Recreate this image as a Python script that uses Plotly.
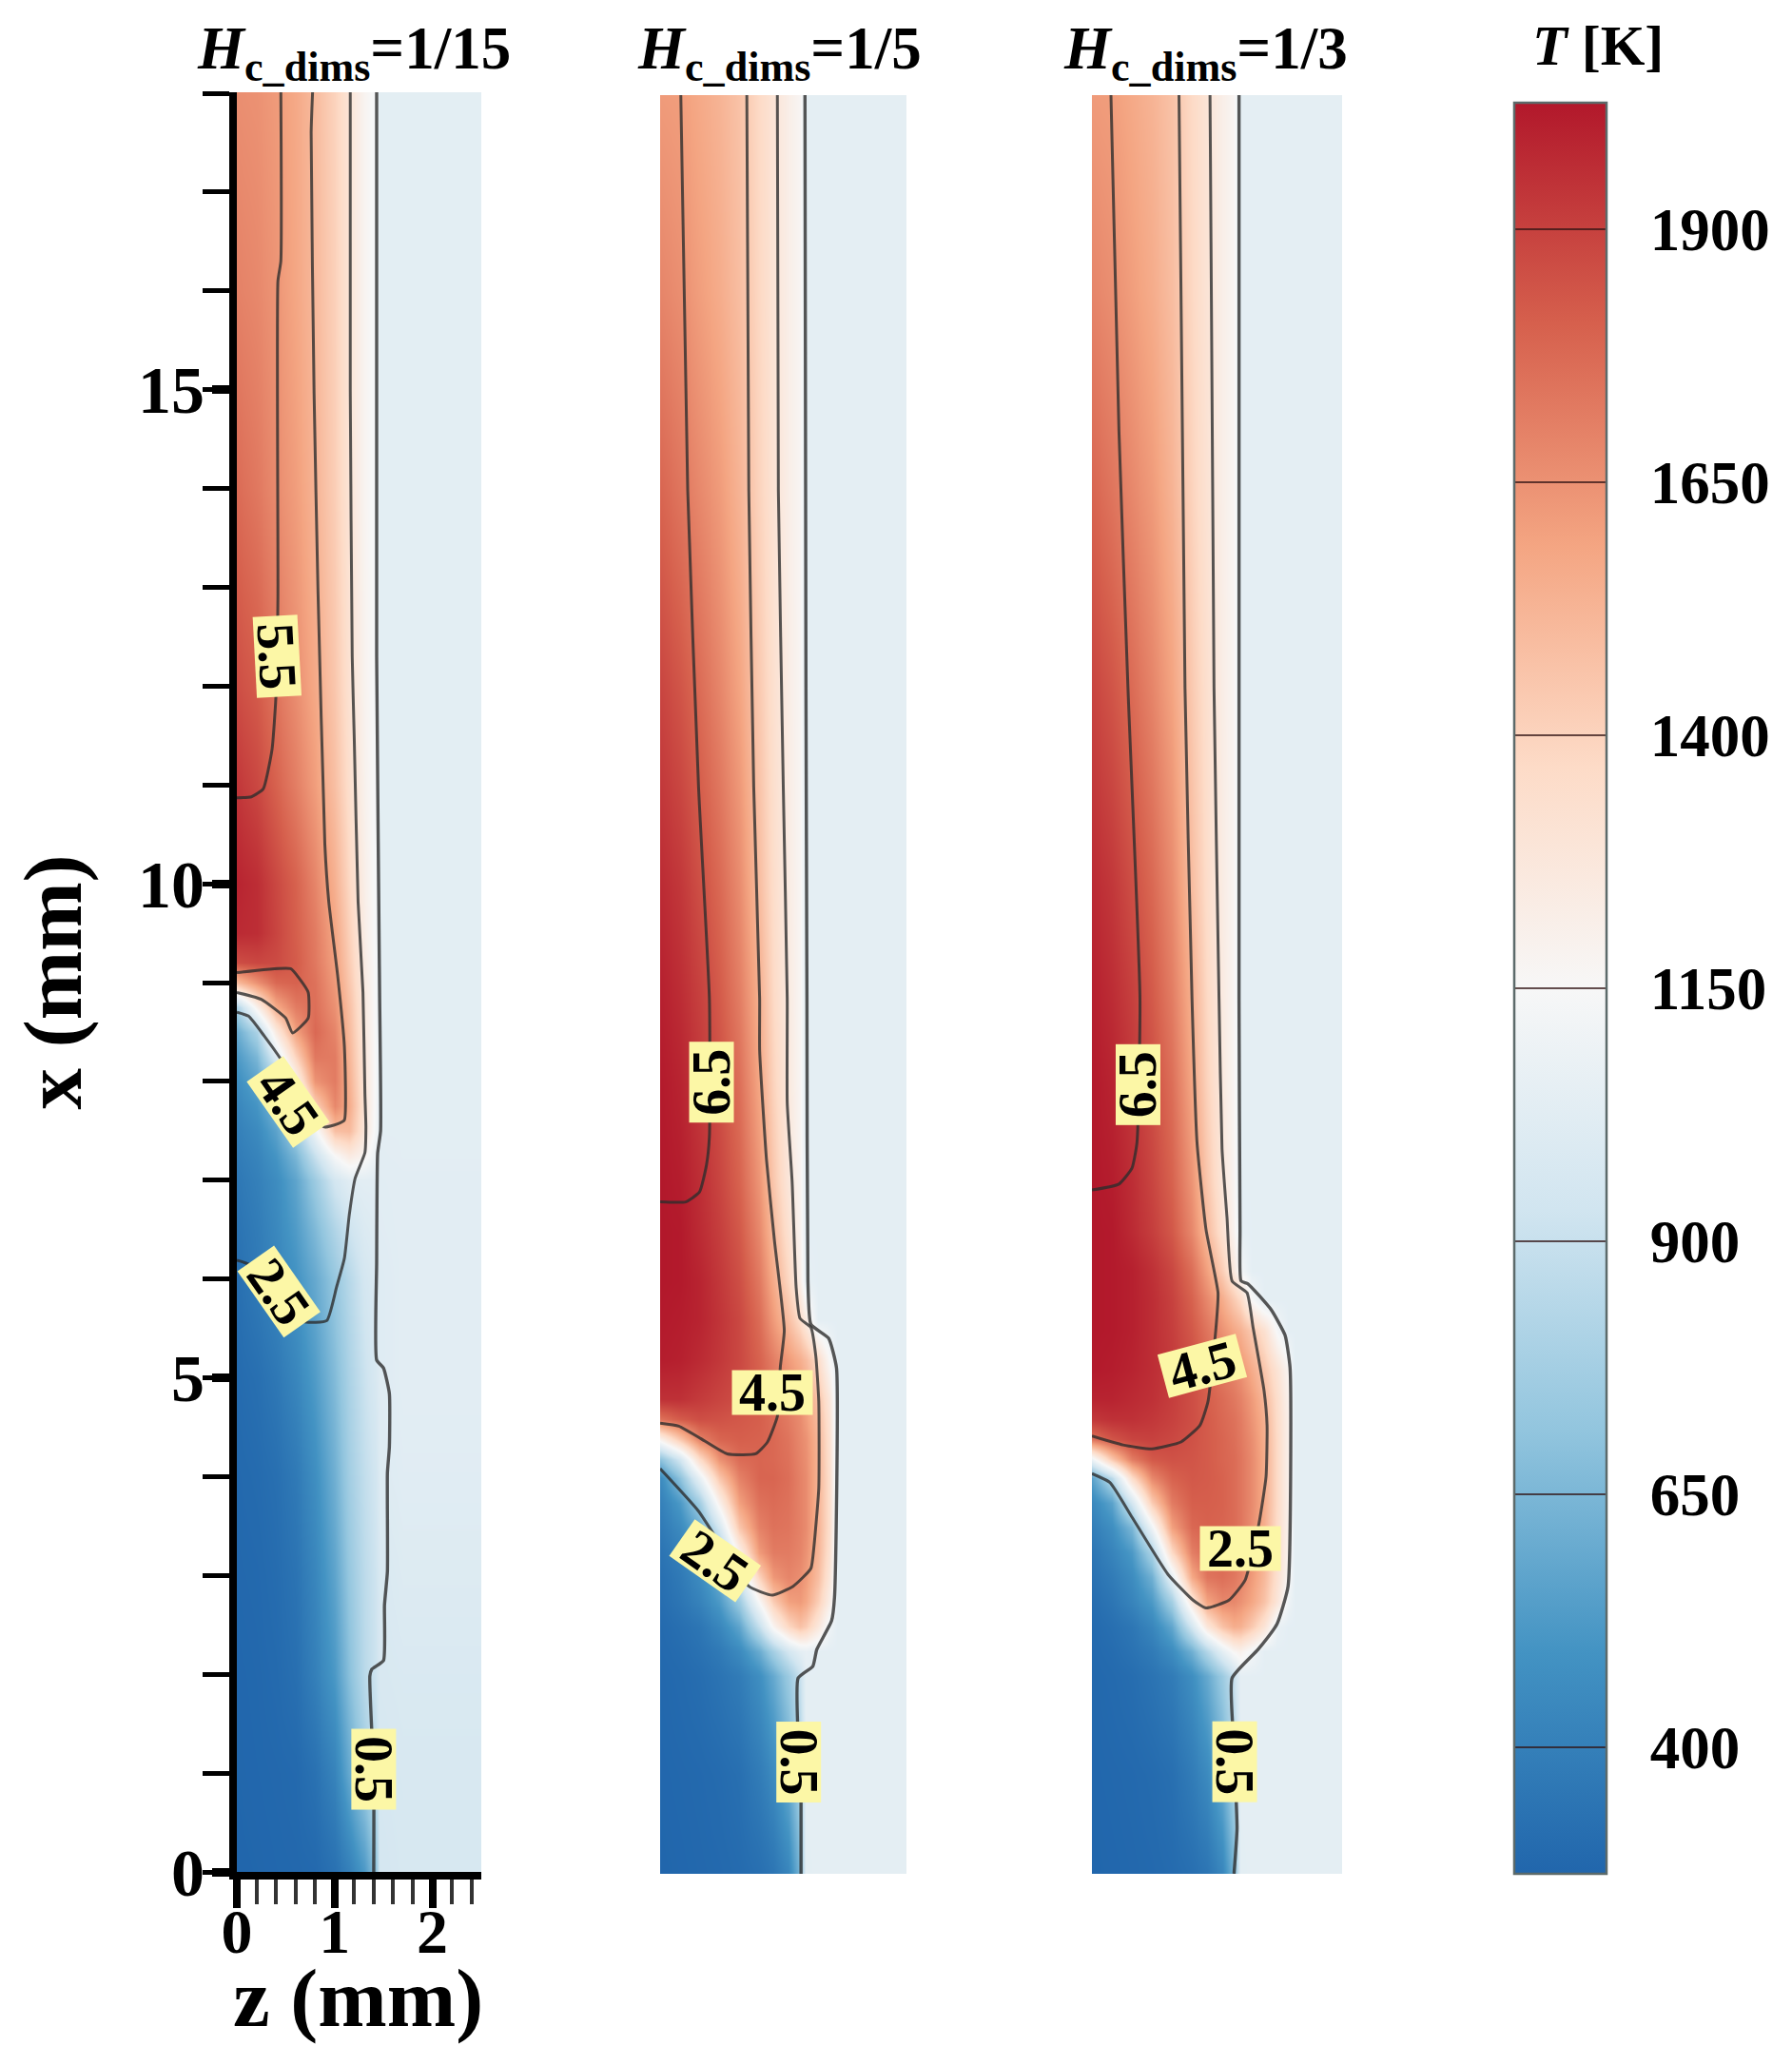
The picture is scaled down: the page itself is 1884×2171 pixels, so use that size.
import plotly.graph_objects as go

W, H = 1884, 2171
FONT = "Liberation Serif"

# ---- colour scale and colour bar -------------------------------------------
T_MIN, T_MAX = 275, 2025
CB_TICKS = [400, 650, 900, 1150, 1400, 1650, 1900]
COLORS = ["#2166ac", "#4393c3", "#92c5de", "#d1e5f0", "#f7f7f7",
          "#fddbc7", "#f4a582", "#d6604d", "#b2182b"]

# ---- temperature fields: rows run from x = 18 mm down to x = 0 --------------
P1_Z = [0, .2, .4, .6, .8, 1.0, 1.15, 1.3, 1.42, 1.46, 1.7, 2.5]
P1_X = [18, 16, 14, 12, 11, 10, 9.5, 9.2, 9.0, 8.75, 8.5, 8.25, 8, 7.75, 7.5, 7.25,
        7, 6.5, 6, 5, 4, 3, 2, 1, 0]
P1_T = [
    [1660, 1650, 1620, 1570, 1500, 1400, 1300, 1180, 1130, 1035, 1035, 1035],
    [1700, 1680, 1640, 1580, 1510, 1410, 1300, 1180, 1130, 1035, 1035, 1035],
    [1770, 1730, 1670, 1610, 1530, 1420, 1300, 1180, 1130, 1035, 1035, 1035],
    [1860, 1820, 1740, 1660, 1570, 1450, 1320, 1190, 1130, 1035, 1035, 1035],
    [1930, 1880, 1800, 1710, 1610, 1480, 1340, 1200, 1130, 1035, 1035, 1035],
    [1990, 1960, 1880, 1800, 1690, 1540, 1380, 1220, 1130, 1035, 1035, 1035],
    [1970, 1960, 1890, 1810, 1720, 1580, 1410, 1230, 1130, 1035, 1035, 1035],
    [1860, 1880, 1870, 1820, 1730, 1600, 1430, 1240, 1135, 1035, 1035, 1035],
    [1500, 1650, 1780, 1800, 1750, 1620, 1450, 1250, 1135, 1035, 1035, 1035],
    [800, 1200, 1560, 1720, 1760, 1650, 1480, 1260, 1135, 1035, 1035, 1035],
    [600, 800, 1250, 1600, 1780, 1690, 1500, 1270, 1135, 1035, 1035, 1035],
    [520, 650, 1000, 1400, 1730, 1720, 1520, 1280, 1135, 1035, 1035, 1035],
    [470, 560, 780, 1180, 1640, 1720, 1540, 1290, 1135, 1035, 1035, 1035],
    [430, 500, 650, 950, 1400, 1680, 1560, 1300, 1130, 1035, 1035, 1035],
    [400, 450, 560, 780, 1100, 1480, 1500, 1280, 1120, 1035, 1035, 1035],
    [380, 420, 500, 650, 900, 1150, 1250, 1180, 1080, 1030, 1035, 1035],
    [360, 400, 460, 570, 750, 950, 1020, 1030, 1030, 1025, 1030, 1030],
    [340, 380, 440, 530, 660, 820, 920, 990, 1010, 1020, 1030, 1030],
    [320, 370, 420, 490, 590, 730, 840, 950, 990, 1010, 1030, 1030],
    [300, 320, 360, 430, 530, 670, 800, 910, 975, 1010, 1030, 1030],
    [290, 300, 320, 370, 470, 620, 770, 880, 940, 1000, 1020, 1020],
    [285, 290, 305, 340, 430, 570, 730, 860, 925, 975, 1000, 1000],
    [280, 285, 295, 320, 400, 520, 690, 850, 920, 970, 980, 980],
    [278, 282, 286, 292, 330, 420, 590, 760, 880, 960, 970, 970],
    [275, 278, 282, 285, 290, 330, 400, 520, 700, 950, 965, 965],
]

P2_Z = [0, .2, .4, .6, .8, 1.0, 1.15, 1.3, 1.42, 1.48, 1.6, 1.72, 1.8, 2.5]
P2_X = [18, 16, 14, 12, 10, 9, 8, 7, 6.5, 6, 5.6, 5.2, 4.8, 4.6, 4.4, 4.2, 4, 3.75,
        3.5, 3.25, 3, 2.75, 2.5, 2.25, 2, 1, 0]
P2_T = [
    [1620, 1610, 1570, 1530, 1470, 1370, 1300, 1220, 1170, 1040, 1040, 1040, 1040, 1040],
    [1690, 1660, 1610, 1560, 1490, 1380, 1300, 1220, 1170, 1040, 1040, 1040, 1040, 1040],
    [1790, 1740, 1680, 1620, 1530, 1400, 1310, 1220, 1170, 1040, 1040, 1040, 1040, 1040],
    [1890, 1840, 1770, 1690, 1590, 1440, 1330, 1230, 1170, 1040, 1040, 1040, 1040, 1040],
    [1970, 1930, 1860, 1780, 1670, 1490, 1350, 1240, 1170, 1040, 1040, 1040, 1040, 1040],
    [2000, 1960, 1900, 1820, 1710, 1540, 1370, 1250, 1170, 1040, 1040, 1040, 1040, 1040],
    [2020, 1990, 1930, 1860, 1760, 1580, 1400, 1260, 1170, 1040, 1040, 1040, 1040, 1040],
    [2025, 2010, 1960, 1890, 1800, 1640, 1450, 1280, 1180, 1040, 1040, 1040, 1040, 1040],
    [2025, 2020, 1970, 1910, 1830, 1680, 1500, 1320, 1190, 1040, 1040, 1040, 1040, 1040],
    [2025, 2020, 1990, 1930, 1860, 1730, 1560, 1380, 1220, 1060, 1040, 1040, 1040, 1040],
    [2020, 2010, 1990, 1940, 1880, 1770, 1620, 1480, 1350, 1250, 1040, 1040, 1040, 1040],
    [2010, 2000, 1970, 1930, 1880, 1800, 1710, 1620, 1550, 1500, 1350, 1150, 1040, 1040],
    [1950, 1950, 1920, 1890, 1860, 1810, 1760, 1700, 1650, 1600, 1470, 1270, 1040, 1040],
    [1750, 1820, 1860, 1850, 1830, 1810, 1770, 1720, 1670, 1620, 1500, 1300, 1040, 1040],
    [1200, 1450, 1700, 1790, 1810, 1800, 1780, 1740, 1680, 1650, 1520, 1320, 1040, 1040],
    [700, 950, 1350, 1650, 1770, 1790, 1780, 1750, 1690, 1660, 1530, 1330, 1040, 1040],
    [450, 700, 1050, 1450, 1700, 1790, 1790, 1760, 1700, 1670, 1530, 1340, 1040, 1040],
    [400, 520, 760, 1200, 1600, 1750, 1770, 1750, 1700, 1670, 1530, 1340, 1040, 1040],
    [370, 450, 600, 950, 1450, 1700, 1750, 1740, 1700, 1670, 1530, 1340, 1040, 1040],
    [340, 400, 500, 740, 1200, 1620, 1720, 1720, 1690, 1650, 1520, 1320, 1040, 1040],
    [320, 370, 450, 600, 950, 1400, 1630, 1690, 1660, 1620, 1490, 1280, 1040, 1040],
    [310, 350, 410, 520, 750, 1150, 1430, 1600, 1620, 1580, 1420, 1220, 1040, 1040],
    [295, 320, 350, 430, 570, 890, 1180, 1380, 1470, 1430, 1270, 1100, 1040, 1040],
    [290, 305, 330, 370, 450, 600, 780, 950, 1040, 1060, 1040, 1040, 1040, 1040],
    [285, 295, 310, 340, 380, 470, 590, 750, 900, 1040, 1040, 1040, 1040, 1040],
    [280, 285, 290, 300, 320, 380, 450, 600, 800, 1040, 1040, 1040, 1040, 1040],
    [275, 280, 285, 290, 300, 320, 350, 430, 640, 1035, 1040, 1040, 1040, 1040],
]

P3_Z = [0, .2, .4, .6, .8, 1.0, 1.15, 1.3, 1.42, 1.48, 1.6, 1.72, 1.85, 1.96, 2.02, 2.5]
P3_X = [18, 16, 14, 12, 10, 9, 8, 7, 6.5, 6.1, 5.8, 5.5, 5.1, 4.8, 4.6, 4.4, 4.2, 4,
        3.75, 3.5, 3.25, 3, 2.75, 2.5, 2.25, 2, 1, 0]
P3_T = [
    [1620, 1610, 1570, 1530, 1470, 1370, 1300, 1220, 1170, 1040, 1040, 1040, 1040, 1040, 1040, 1040],
    [1690, 1660, 1610, 1560, 1490, 1380, 1300, 1220, 1170, 1040, 1040, 1040, 1040, 1040, 1040, 1040],
    [1790, 1740, 1680, 1620, 1530, 1400, 1310, 1220, 1170, 1040, 1040, 1040, 1040, 1040, 1040, 1040],
    [1890, 1840, 1770, 1690, 1590, 1440, 1330, 1230, 1170, 1040, 1040, 1040, 1040, 1040, 1040, 1040],
    [1970, 1930, 1860, 1780, 1670, 1490, 1350, 1240, 1170, 1040, 1040, 1040, 1040, 1040, 1040, 1040],
    [2000, 1960, 1900, 1820, 1710, 1540, 1370, 1250, 1170, 1040, 1040, 1040, 1040, 1040, 1040, 1040],
    [2020, 1990, 1930, 1860, 1760, 1580, 1400, 1260, 1170, 1040, 1040, 1040, 1040, 1040, 1040, 1040],
    [2025, 2010, 1960, 1890, 1800, 1640, 1450, 1280, 1180, 1040, 1040, 1040, 1040, 1040, 1040, 1040],
    [2025, 2020, 1970, 1910, 1830, 1680, 1500, 1320, 1190, 1050, 1040, 1040, 1040, 1040, 1040, 1040],
    [2025, 2020, 2000, 1950, 1880, 1760, 1600, 1420, 1260, 1130, 1040, 1040, 1040, 1040, 1040, 1040],
    [2025, 2020, 2000, 1960, 1900, 1800, 1680, 1560, 1440, 1370, 1150, 1040, 1040, 1040, 1040, 1040],
    [2025, 2020, 2000, 1960, 1910, 1830, 1740, 1650, 1580, 1540, 1440, 1330, 1130, 1040, 1040, 1040],
    [2020, 2010, 1990, 1960, 1920, 1860, 1790, 1730, 1690, 1650, 1560, 1450, 1300, 1180, 1040, 1040],
    [1990, 1990, 1970, 1950, 1910, 1860, 1810, 1770, 1730, 1700, 1620, 1510, 1340, 1200, 1040, 1040],
    [1930, 1950, 1950, 1930, 1900, 1860, 1820, 1780, 1750, 1720, 1640, 1540, 1350, 1210, 1040, 1040],
    [1750, 1840, 1890, 1900, 1880, 1850, 1820, 1790, 1760, 1730, 1660, 1550, 1360, 1210, 1040, 1040],
    [1100, 1450, 1720, 1830, 1850, 1840, 1820, 1790, 1770, 1740, 1670, 1560, 1360, 1210, 1040, 1040],
    [560, 850, 1350, 1680, 1800, 1830, 1820, 1800, 1770, 1740, 1670, 1560, 1360, 1210, 1040, 1040],
    [440, 560, 950, 1430, 1720, 1810, 1810, 1800, 1770, 1740, 1670, 1560, 1360, 1210, 1040, 1040],
    [390, 470, 650, 1100, 1600, 1780, 1800, 1790, 1770, 1740, 1660, 1550, 1350, 1200, 1040, 1040],
    [350, 420, 520, 800, 1370, 1710, 1780, 1780, 1760, 1720, 1650, 1530, 1340, 1190, 1040, 1040],
    [330, 380, 460, 620, 1050, 1570, 1740, 1760, 1730, 1700, 1620, 1510, 1320, 1170, 1040, 1040],
    [310, 350, 420, 520, 780, 1280, 1590, 1680, 1680, 1650, 1580, 1470, 1280, 1100, 1040, 1040],
    [295, 320, 355, 430, 580, 950, 1280, 1470, 1550, 1540, 1440, 1300, 1070, 1040, 1040, 1040],
    [290, 305, 335, 375, 460, 620, 830, 1040, 1170, 1200, 1120, 1040, 1040, 1040, 1040, 1040],
    [285, 295, 310, 340, 380, 470, 590, 750, 900, 1040, 1040, 1040, 1040, 1040, 1040, 1040],
    [280, 285, 290, 300, 320, 380, 450, 600, 800, 1040, 1040, 1040, 1040, 1040, 1040, 1040],
    [275, 280, 285, 290, 300, 320, 350, 430, 640, 1035, 1040, 1040, 1040, 1040, 1040, 1040],
]

# ---- contour lines, (z, x) in mm --------------------------------------------
P1_L05 = [(1.40, 0), (1.40, .97), (1.36, 1.98), (1.38, 2.05), (1.50, 2.14), (1.51, 2.7), (1.54, 3.04),
          (1.54, 4.04), (1.56, 4.3), (1.56, 4.84), (1.5, 5.1), (1.43, 5.18), (1.43, 6.17), (1.44, 7.27),
          (1.47, 7.5), (1.46, 8.9), (1.43, 12.3), (1.43, 18.02)]
P1_L25 = [(0, 6.19), (.12, 6.15), (.68, 5.57), (.92, 5.58), (1.02, 5.92), (1.10, 6.21), (1.15, 6.65),
          (1.21, 7.02), (1.31, 7.28), (1.32, 7.54), (1.31, 7.87), (1.29, 8.9), (1.24, 9.82), (1.2, 11.5),
          (1.18, 12.3), (1.16, 15), (1.16, 18.02)]
P1_L45 = [(0, 8.70), (.12, 8.66), (.28, 8.46), (.44, 8.24), (.89, 7.54), (1.03, 7.57), (1.10, 7.61),
          (1.10, 8.35), (1.03, 9.08), (.94, 9.82), (.9, 10.4), (.83, 12.96), (.79, 14.96), (.76, 17.6),
          (.775, 18.02)]
P1_L55A = [(.45, 18.02), (.45, 16.3), (.42, 16.1), (.42, 12.9), (.40, 11.9), (.36, 11.36), (.27, 10.96),
           (.15, 10.88), (0, 10.87)]
P1_L55B = [(0, 9.10), (.55, 9.14), (.64, 9.04), (.73, 8.90), (.73, 8.64), (.57, 8.49), (.5, 8.64),
           (.25, 8.83), (0, 8.90)]

P2_L05 = [(1.43, 0), (1.43, .76), (1.40, 1.98), (1.55, 2.1), (1.59, 2.27), (1.74, 2.56), (1.77, 2.8),
          (1.79, 5.12), (1.71, 5.42), (1.53, 5.56), (1.50, 6.0), (1.49, 8.855), (1.48, 12), (1.47, 18)]
P2_L25 = [(0, 4.1), (.39, 3.67), (.9, 2.91), (1.14, 2.82), (1.35, 2.91), (1.53, 3.09), (1.56, 3.3),
          (1.61, 3.9), (1.61, 4.78), (1.58, 5.24), (1.53, 5.53), (1.42, 5.62), (1.38, 5.94), (1.34, 7.0),
          (1.29, 7.8), (1.29, 8.855), (1.25, 11), (1.20, 14), (1.19, 18)]
P2_L45 = [(0, 4.56), (.19, 4.53), (.42, 4.4), (.68, 4.25), (.97, 4.25), (1.09, 4.37), (1.19, 4.63),
          (1.22, 5.13), (1.26, 5.5), (1.16, 6.41), (1.08, 7.22), (1.01, 8.33), (1.01, 8.855), (.95, 11),
          (.90, 14), (.88, 18)]
P2_L65 = [(0, 6.8), (.26, 6.8), (.40, 6.9), (.47, 7.17), (.5, 7.46), (.5, 8.855), (.39, 11), (.28, 14),
          (.21, 18)]

P3_L05 = [(1.42, 0), (1.45, .46), (1.42, 1.28), (1.40, 1.98), (1.66, 2.27), (1.85, 2.53), (1.96, 2.91),
          (1.98, 5.12), (1.93, 5.45), (1.79, 5.71), (1.56, 5.97), (1.49, 6.0), (1.48, 6.52), (1.47, 8.855),
          (1.47, 18)]
P3_L25 = [(0, 4.05), (.18, 3.96), (.40, 3.61), (.76, 3.03), (1.01, 2.77), (1.14, 2.69), (1.37, 2.77),
          (1.53, 2.97), (1.67, 3.55), (1.74, 4.02), (1.75, 4.54), (1.72, 4.89), (1.61, 5.53), (1.55, 5.88),
          (1.40, 6.0), (1.35, 6.64), (1.30, 7.34), (1.27, 8.855), (1.22, 12), (1.18, 18)]
P3_L45 = [(0, 4.43), (.31, 4.34), (.6, 4.3), (.89, 4.37), (1.08, 4.54), (1.16, 4.78), (1.24, 5.53),
          (1.26, 5.88), (1.14, 6.52), (1.05, 7.4), (1.0, 8.855), (.93, 12), (.87, 18)]
P3_L65 = [(0, 6.92), (.27, 6.98), (.40, 7.14), (.45, 7.4), (.48, 8.855), (.36, 12), (.27, 14.6), (.19, 18)]

# ---- contour labels: text, z, x, angle --------------------------------------
P1_LABELS = [("5.5", .41, 12.3, 87), ("4.5", .53, 7.79, 55), ("2.5", .43, 5.87, 55), ("0.5", 1.40, 1.04, 90)]
P2_LABELS = [("6.5", .52, 8.01, -90), ("4.5", 1.14, 4.87, 0), ("2.5", .56, 3.17, 35), ("0.5", 1.41, 1.13, 90)]
P3_LABELS = [("6.5", .46, 7.99, -90), ("4.5", 1.10, 5.14, -15), ("2.5", 1.48, 3.29, 0), ("0.5", 1.43, 1.13, 90)]

TITLES = ["1/15", "1/5", "1/3"]
TITLE_CX = [372, 819, 1267]
X_TICKS = [0, 1, 2]
Y_TICKS = [0, 5, 10, 15]

# ---- panel boxes in pixels (left, right, top, bottom) -----------------------
BOX1 = (249, 506, 97, 1968)
BOX2 = (694, 953, 100, 1970)
BOX3 = (1148, 1411, 100, 1970)


def xdom(b):
    return [b[0] / W, b[1] / W]


def ydom(b):
    return [1 - b[3] / H, 1 - b[2] / H]


fig = go.Figure()
panels = [
    (P1_Z, P1_X, P1_T, "x", "y", [P1_L05, P1_L25, P1_L45, P1_L55A, P1_L55B], P1_LABELS),
    (P2_Z, P2_X, P2_T, "x2", "y2", [P2_L05, P2_L25, P2_L45, P2_L65], P2_LABELS),
    (P3_Z, P3_X, P3_T, "x3", "y3", [P3_L05, P3_L25, P3_L45, P3_L65], P3_LABELS),
]
annotations = []
label_font = dict(family=FONT, size=56, color="black", weight=700)
for zs, xs, temps, xa, ya, lines, labels in panels:
    fig.add_trace(go.Heatmap(x=zs, y=xs[::-1], z=temps[::-1], zsmooth="best", coloraxis="coloraxis",
                             xaxis=xa, yaxis=ya, hoverinfo="skip"))
    for i, ln in enumerate(lines):
        lz, lx = zip(*ln)
        fig.add_trace(go.Scatter(x=list(lz), y=list(lx), mode="lines", xaxis=xa, yaxis=ya, showlegend=False,
                                 hoverinfo="skip",
                                 line=dict(color="rgba(45,45,45,0.8)", width=3 if i else 3.4,
                                           shape="spline", smoothing=0.45)))
    for txt, lz, lx, ang in labels:
        annotations.append(dict(x=lz, y=lx, xref=xa, yref=ya, text=txt, showarrow=False, textangle=ang,
                                font=label_font, bgcolor="#fcf7a6", width=84, height=46, borderpad=0,
                                xanchor="center", yanchor="middle", valign="middle", align="center"))

title_font = dict(family=FONT, size=63, color="black", weight=700)
for txt, cx in zip(TITLES, TITLE_CX):
    annotations.append(dict(x=cx / W, y=1 - 55 / H, xref="paper", yref="paper", showarrow=False,
                            xanchor="center", yanchor="middle", font=title_font,
                            text=f"<i>H</i><sub>c_dims</sub>={txt}"))
annotations.append(dict(x=1680 / W, y=1 - 48 / H, xref="paper", yref="paper", showarrow=False,
                        xanchor="center", yanchor="middle",
                        font=dict(family=FONT, size=60, color="black", weight=700), text="<i>T</i> [K]"))
annotations.append(dict(x=376 / W, y=1 - 2100 / H, xref="paper", yref="paper", showarrow=False,
                        xanchor="center", yanchor="middle",
                        font=dict(family=FONT, size=87, color="black", weight=700), text="z (mm)"))

hidden = dict(visible=False)
fig.update_layout(
    width=W, height=H, margin=dict(l=0, r=0, t=0, b=0, autoexpand=False),
    paper_bgcolor="white", plot_bgcolor="white", showlegend=False,
    annotations=annotations,
    coloraxis=dict(
        cmin=T_MIN, cmax=T_MAX,
        colorscale=[[i / (len(COLORS) - 1), c] for i, c in enumerate(COLORS)],
        colorbar=dict(
            x=1592 / W, xanchor="left", xpad=0, ypad=0, y=1 - 1970 / H, yanchor="bottom",
            len=1862 / H, lenmode="fraction", thickness=97, thicknessmode="pixels",
            tickmode="array", tickvals=CB_TICKS,
            ticktext=["\u00a0\u00a0" + str(v) for v in CB_TICKS],
            ticks="inside", ticklen=97, tickwidth=2, tickcolor="rgba(50,20,20,0.75)",
            outlinecolor="#5c6a6a", outlinewidth=2.5,
            tickfont=dict(family=FONT, size=63, color="black", weight=700),
        ),
    ),
    xaxis=dict(domain=xdom(BOX1), range=[0, 2.5], anchor="y", showgrid=False, zeroline=False,
               showline=True, linecolor="black", linewidth=8,
               tickmode="array", tickvals=X_TICKS, ticks="outside", ticklen=30, tickwidth=8, tickcolor="black",
               ticklabelstandoff=-32,
               minor=dict(ticks="outside", dtick=.2, tick0=0, ticklen=26, tickwidth=4, tickcolor="#333333"),
               tickfont=dict(family=FONT, size=66, color="black", weight=700)),
    yaxis=dict(domain=ydom(BOX1), range=[0, 18.01], anchor="x", showgrid=False, zeroline=False,
               showline=True, linecolor="black", linewidth=8,
               tickmode="array", tickvals=Y_TICKS, ticks="outside", ticklen=18, tickwidth=9, tickcolor="black",
               ticklabelstandoff=-6,
               minor=dict(ticks="outside", dtick=1, tick0=0, ticklen=28, tickwidth=5, tickcolor="black"),
               tickfont=dict(family=FONT, size=70, color="black", weight=700),
               title=dict(text="x (mm)", font=dict(family=FONT, size=87, color="black", weight=700), standoff=34)),
    xaxis2=dict(domain=xdom(BOX2), range=[0, 2.5], anchor="y2", **hidden),
    yaxis2=dict(domain=ydom(BOX2), range=[0, 18], anchor="x2", **hidden),
    xaxis3=dict(domain=xdom(BOX3), range=[0, 2.5], anchor="y3", **hidden),
    yaxis3=dict(domain=ydom(BOX3), range=[0, 18], anchor="x3", **hidden),
)

fig.write_html("out.html", config=dict(displayModeBar=False), post_script="document.body.style.margin='0';")
